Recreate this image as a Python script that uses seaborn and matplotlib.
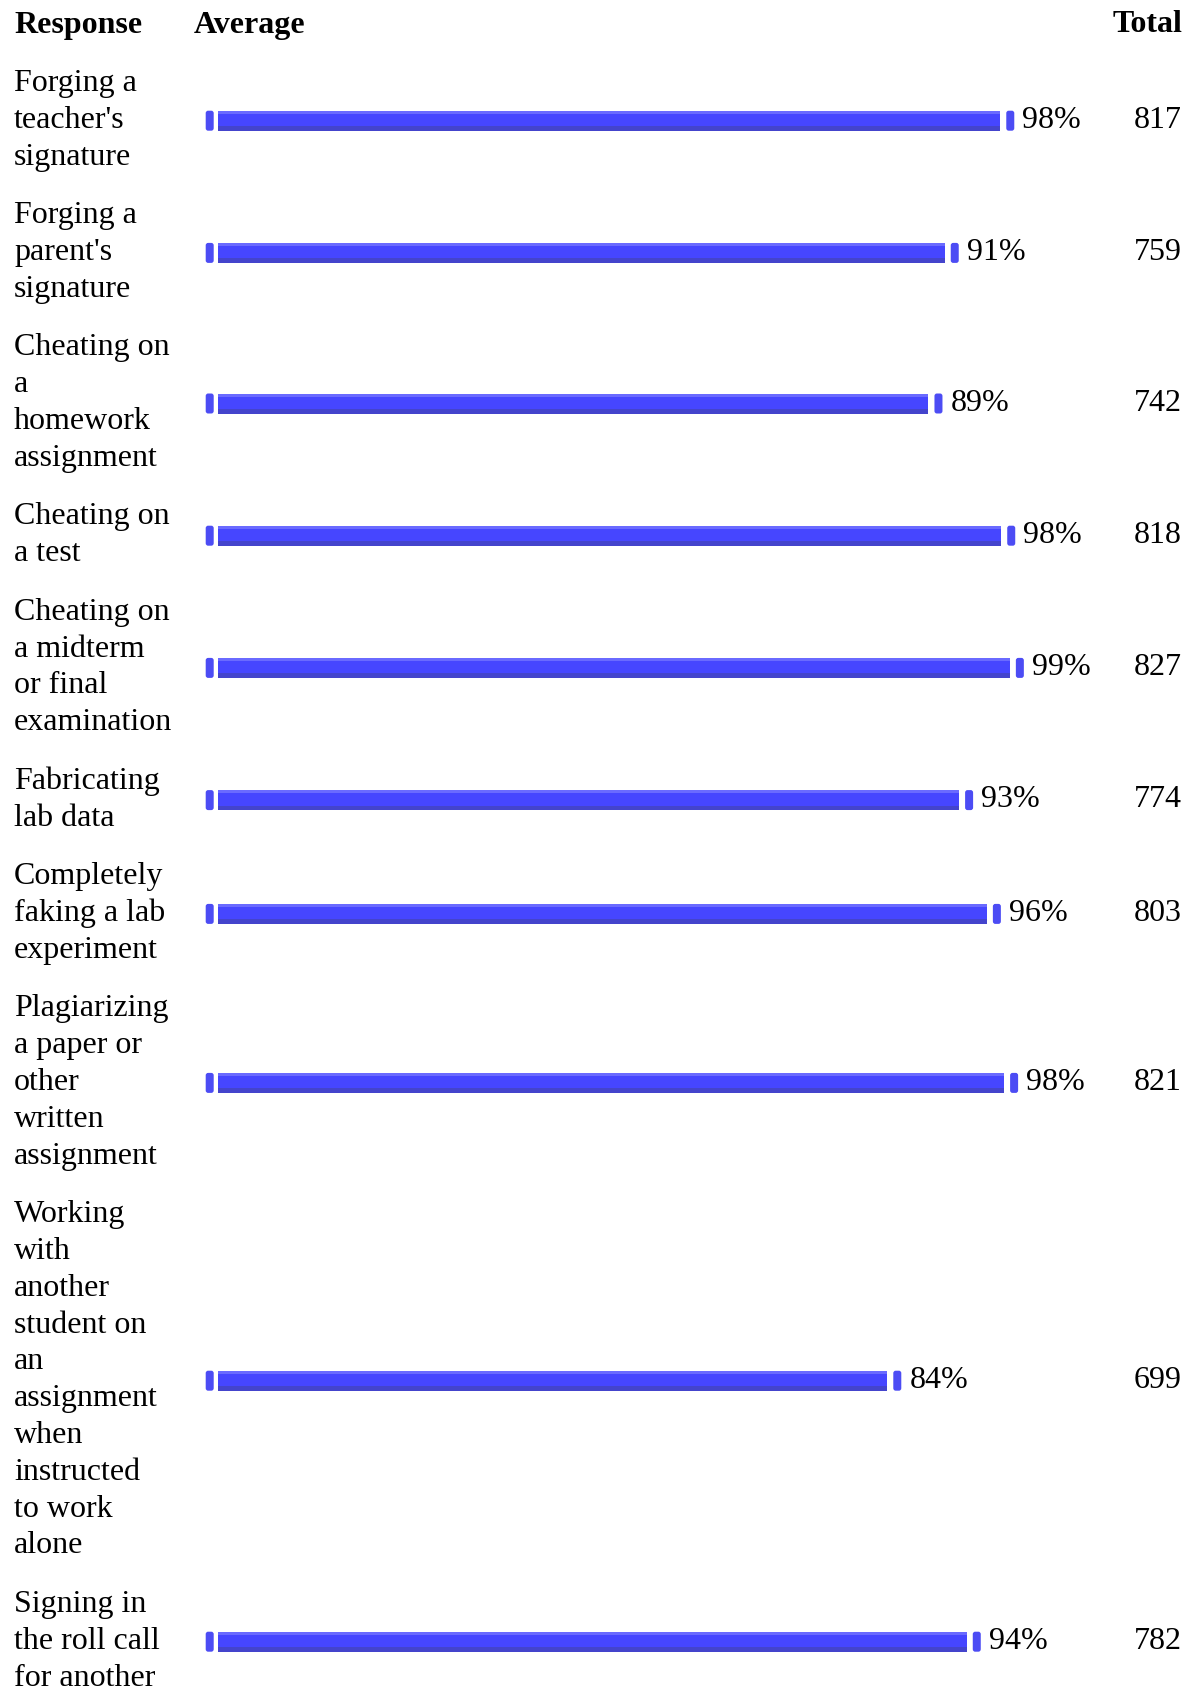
import numpy as np
import matplotlib
matplotlib.use("Agg")
import matplotlib.pyplot as plt
from matplotlib.patches import Rectangle, FancyBboxPatch
import seaborn as sns

# ---------------- data ----------------
responses = [
    "Forging a\nteacher's\nsignature",
    "Forging a\nparent's\nsignature",
    "Cheating on\na\nhomework\nassignment",
    "Cheating on\na test",
    "Cheating on\na midterm\nor final\nexamination",
    "Fabricating\nlab data",
    "Completely\nfaking a lab\nexperiment",
    "Plagiarizing\na paper or\nother\nwritten\nassignment",
    "Working\nwith\nanother\nstudent on\nan\nassignment\nwhen\ninstructed\nto work\nalone",
    "Signing in\nthe roll call\nfor another",
]
average_pct = [98, 91, 89, 98, 99, 93, 96, 98, 84, 94]
totals = [817, 759, 742, 818, 827, 774, 803, 821, 699, 782]
headers = ["Response", "Average", "Total"]

# ---------------- layout (pixels) ----------------
W, H = 1192, 1688
DPI = 100
LH = 36.8        # text line height
PAD = 21.8       # vertical cell padding per row
Y0 = 54.6        # top of first row
BAR_LEFT = 218.0 # pixel x where bars start
K = 0.9575       # pixels per respondent
BAR_H = 20.0
FS = 23
FONT = "Liberation Serif"

nlines = [len(r.split("\n")) for r in responses]
heights = [n * LH + PAD for n in nlines]
tops = Y0 + np.concatenate([[0], np.cumsum(heights)[:-1]])
centers = tops + np.array(heights) / 2

sns.set_theme(style="white")
plt.rcParams["font.family"] = [FONT, "DejaVu Serif"]

fig = plt.figure(figsize=(W / DPI, H / DPI), dpi=DPI)
fig.patch.set_facecolor("white")

# pixel-coordinate axes for text
pax = fig.add_axes([0, 0, 1, 1])
pax.set_xlim(0, W)
pax.set_ylim(H, 0)
pax.axis("off")

# bar axes: x in respondents, y in pixels
xmax = 1000
ax = fig.add_axes([BAR_LEFT / W, 0, xmax * K / W, 1])
ax.patch.set_alpha(0)

df = {"total": totals, "ypos": centers}
min_gap = np.min(np.diff(centers))
sns.barplot(x=df["total"], y=df["ypos"], orient="h", native_scale=True,
            width=BAR_H / min_gap, color="#4646FF", saturation=1,
            errorbar=None, linewidth=0, ax=ax)
ax.set_xlim(0, xmax)
ax.set_ylim(H, 0)
ax.axis("off")

bars = list(ax.patches)
for p in bars:
    x0, y, w, h = p.get_x(), p.get_y(), p.get_width(), p.get_height()
    ytop = min(y, y + h)
    hh = abs(h)
    # highlight / shadow stripes
    ax.add_patch(Rectangle((x0, ytop), w, 3.0, color="#6A6AFF", lw=0, zorder=3))
    ax.add_patch(Rectangle((x0, ytop + hh - 4.5), w, 4.5, color="#4444CC", lw=0, zorder=3))
    # end caps
    for cx in (-12.3 / K, x0 + w + 6.0 / K):
        ax.add_patch(FancyBboxPatch((cx, ytop), 8.0 / K, hh,
                                    boxstyle="round,pad=0,rounding_size=2.5",
                                    mutation_aspect=1.0, color="#4C4CF4", lw=0,
                                    zorder=3, clip_on=False))

# headers
pax.text(14, 32.5, headers[0], fontsize=FS, fontweight="bold", va="baseline", ha="left", color="black")
pax.text(194, 32.5, headers[1], fontsize=FS, fontweight="bold", va="baseline", ha="left", color="black")
pax.text(1182, 32.5, headers[2], fontsize=FS, fontweight="bold", va="baseline", ha="right", color="black")

# row labels, percents, totals
for resp, n, c, pct, tot in zip(responses, nlines, centers, average_pct, totals):
    base_mid = c + 7.1
    for i, line in enumerate(resp.split("\n")):
        pax.text(14, base_mid + (i - (n - 1) / 2) * LH, line, fontsize=FS,
                 va="baseline", ha="left", color="black")
    ax.text(tot + 22.0 / K, base_mid, f"{pct}%", fontsize=FS, va="baseline",
            ha="left", color="black")
    pax.text(1182, base_mid, f"{tot}", fontsize=FS, va="baseline", ha="right", color="black")

fig.savefig("out.png", dpi=DPI, facecolor="white")
